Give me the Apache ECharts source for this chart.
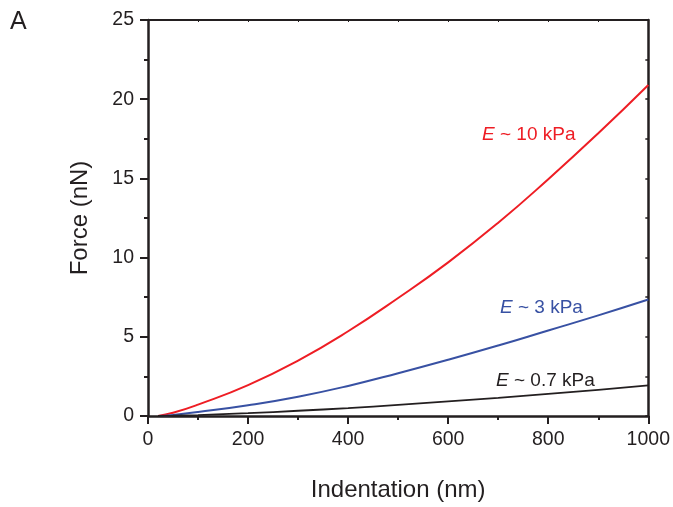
<!DOCTYPE html>
<html><head><meta charset="utf-8">
<script src="https://cdn.jsdelivr.net/npm/echarts@6/dist/echarts.min.js"></script>
<style>html,body{margin:0;padding:0;background:#fff}#c{width:673px;height:507px}</style>
</head><body><div id="c"></div>
<script>
const indentation = [20, 50, 100, 200, 300, 400, 500, 600, 700, 800, 900, 1000];
const force10kPa  = [0, 0.2, 0.72, 1.95, 3.5, 5.35, 7.45, 9.7, 12.2, 14.95, 17.85, 20.9];
const force3kPa   = [0, 0.07, 0.25, 0.68, 1.22, 1.9, 2.7, 3.55, 4.45, 5.4, 6.35, 7.35];
const force07kPa  = [0, 0.02, 0.06, 0.18, 0.33, 0.5, 0.7, 0.92, 1.15, 1.4, 1.65, 1.93];
const xTicks = [0, 200, 400, 600, 800, 1000];
const yTicks = [0, 5, 10, 15, 20, 25];
const seriesNames = ['10 kPa', '3 kPa', '0.7 kPa'];

const ink = '#231f20';
const font = 'Liberation Sans, Arial, sans-serif';
const pair = (ys) => indentation.map((x, i) => [x, ys[i]]);

const chart = echarts.init(document.getElementById('c'), null, {renderer: 'canvas'});
chart.setOption({
  animation: false,
  backgroundColor: '#fff',
  grid: {left: 148, right: 23, top: 20, bottom: 89},
  xAxis: [{
    type: 'value', min: 0, max: 1000, interval: 200, position: 'bottom',
    name: 'Indentation (nm)', nameLocation: 'middle', nameGap: 62,
    nameTextStyle: {fontFamily: font, fontSize: 24, color: ink},
    axisLine: {show: true, onZero: false, lineStyle: {color: ink, width: 2.5}},
    axisTick: {show: true, inside: false, length: 8, lineStyle: {color: ink, width: 2}},
    minorTick: {show: true, splitNumber: 2, length: 4, lineStyle: {color: ink, width: 2}},
    axisLabel: {fontFamily: font, fontSize: 19.5, color: ink, margin: 14,
      formatter: v => xTicks.includes(v) ? String(v) : ''},
    splitLine: {show: false}
  }, {
    type: 'value', min: 0, max: 1000, interval: 100, position: 'top',
    axisLine: {show: true, onZero: false, lineStyle: {color: ink, width: 2}},
    axisTick: {show: true, inside: true, length: 2, lineStyle: {color: ink, width: 1}},
    axisLabel: {show: false}, splitLine: {show: false}
  }],
  yAxis: [{
    type: 'value', min: 0, max: 25, interval: 5, position: 'left',
    name: 'Force (nN)', nameLocation: 'middle', nameGap: 56, nameRotate: 90,
    nameTextStyle: {fontFamily: font, fontSize: 24, color: ink},
    axisLine: {show: true, onZero: false, lineStyle: {color: ink, width: 2.5}},
    axisTick: {show: true, inside: false, length: 8, lineStyle: {color: ink, width: 2}},
    minorTick: {show: true, splitNumber: 2, length: 4, lineStyle: {color: ink, width: 2}},
    axisLabel: {fontFamily: font, fontSize: 19.5, color: ink, margin: 14,
      formatter: v => yTicks.includes(v) ? String(v) : ''},
    splitLine: {show: false}
  }, {
    type: 'value', min: 0, max: 25, interval: 2.5, position: 'right',
    axisLine: {show: true, onZero: false, lineStyle: {color: ink, width: 2.5}},
    axisTick: {show: true, inside: true, length: 3, lineStyle: {color: ink, width: 1.5}},
    axisLabel: {show: false}, splitLine: {show: false}
  }],
  series: [
    {name: seriesNames[0], type: 'line', data: pair(force10kPa), smooth: 0.5, showSymbol: false,
     lineStyle: {color: '#ee1d24', width: 2}, z: 3},
    {name: seriesNames[1], type: 'line', data: pair(force3kPa), smooth: 0.5, showSymbol: false,
     lineStyle: {color: '#3851a3', width: 2}, z: 3},
    {name: seriesNames[2], type: 'line', data: pair(force07kPa), smooth: 0.5, showSymbol: false,
     lineStyle: {color: ink, width: 1.8}, z: 3}
  ],
  graphic: [
    {type: 'text', left: 10, top: 10, style: {text: 'A', fontFamily: font, fontSize: 25, fill: ink}},
    {type: 'text', left: 482, top: 125, style: {
      text: '{i|E} ~ ' + seriesNames[0], fontFamily: font, fontSize: 19, fill: '#ee1d24',
      rich: {i: {fontStyle: 'italic', fontFamily: font, fontSize: 19, fill: '#ee1d24'}}}},
    {type: 'text', left: 500, top: 298, style: {
      text: '{i|E} ~ ' + seriesNames[1], fontFamily: font, fontSize: 19, fill: '#3851a3',
      rich: {i: {fontStyle: 'italic', fontFamily: font, fontSize: 19, fill: '#3851a3'}}}},
    {type: 'text', left: 496, top: 371, style: {
      text: '{i|E} ~ ' + seriesNames[2], fontFamily: font, fontSize: 19, fill: ink,
      rich: {i: {fontStyle: 'italic', fontFamily: font, fontSize: 19, fill: ink}}}}
  ]
});
</script></body></html>
